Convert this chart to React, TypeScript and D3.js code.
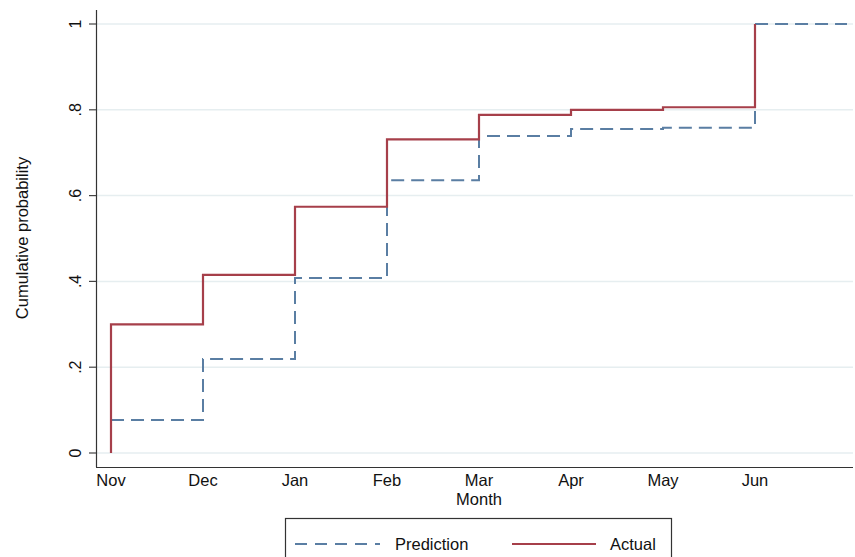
import React from "react";
import * as d3 from "d3";

const months = ["Nov", "Dec", "Jan", "Feb", "Mar", "Apr", "May", "Jun"];
const predictionValues = [0.077, 0.219, 0.408, 0.636, 0.739, 0.755, 0.758, 1.0, 1.0];
const actualValues = [0.0, 0.3, 0.415, 0.574, 0.731, 0.788, 0.8, 0.806, 1.0];
const yTicks = [0, 0.2, 0.4, 0.6, 0.8, 1];
const yTickLabels = ["0", ".2", ".4", ".6", ".8", "1"];

const W = 855;
const H = 557;

export default function App() {
  const x = d3.scaleLinear().domain([0, 8]).range([111, 847]);
  const y = d3.scaleLinear().domain([0, 1]).range([453, 24]);
  const font = "'Liberation Sans', Arial, Helvetica, sans-serif";

  const predPts: [number, number][] = predictionValues.map((v, i) => [i, v]);

  const stepLine = d3
    .line<[number, number]>()
    .x((d) => x(d[0]))
    .y((d) => y(d[1]))
    .curve(d3.curveStepAfter);
  const vLine = d3
    .line<[number, number]>()
    .x((d) => x(d[0]))
    .y((d) => y(d[1]));

  const actualPath = (() => {
    const segs: [number, number][] = [];
    segs.push([0, actualValues[0]]);
    for (let k = 1; k < actualValues.length; k++) {
      const m = k - 1;
      segs.push([m, actualValues[k - 1]]);
      segs.push([m, actualValues[k]]);
    }
    return vLine(segs);
  })();

  const blue = "#5a7ea3";
  const red = "#a63f4a";
  const grid = "#e6eef0";

  return (
    <svg
      width={W}
      height={H}
      style={{ position: "absolute", left: 0, top: 0, background: "#fff" }}
      fontFamily={font}
    >
      <rect x={0} y={0} width={W} height={H} fill="#fff" />
      {yTicks.map((t) => (
        <line key={"g" + t} x1={96} x2={853} y1={y(t)} y2={y(t)} stroke={grid} strokeWidth={1.5} />
      ))}
      <line x1={96.5} x2={96.5} y1={10} y2={467} stroke="#333" strokeWidth={1.2} />
      <line x1={96} x2={853} y1={467.5} y2={467.5} stroke="#333" strokeWidth={1.2} />
      {yTicks.map((t, i) => (
        <g key={"t" + t}>
          <line x1={89} x2={96} y1={y(t)} y2={y(t)} stroke="#444" strokeWidth={1.2} />
          <text
            transform={`translate(${81},${y(t)}) rotate(-90)`}
            textAnchor="middle"
            fontSize={16}
            fill="#111"
          >
            {yTickLabels[i]}
          </text>
        </g>
      ))}
      <text
        transform={`translate(28,238) rotate(-90)`}
        textAnchor="middle"
        fontSize={16.5}
        fill="#111"
      >
        Cumulative probability
      </text>
      {months.map((m, i) => (
        <text key={m} x={x(i)} y={486} textAnchor="middle" fontSize={16.5} fill="#111">
          {m}
        </text>
      ))}
      <text x={479} y={505} textAnchor="middle" fontSize={16.5} fill="#111">
        Month
      </text>

      <path d={stepLine(predPts) || ""} fill="none" stroke={blue} strokeWidth={2} strokeDasharray="13,7" />
      <path d={actualPath || ""} fill="none" stroke={red} strokeWidth={2.2} />

      <rect x={285.5} y={518.5} width={386} height={60} fill="#fff" stroke="#333" strokeWidth={1.2} />
      <line x1={295} x2={380} y1={544} y2={544} stroke={blue} strokeWidth={2} strokeDasharray="12,8" />
      <text x={395} y={550} fontSize={16.5} fill="#111">
        Prediction
      </text>
      <line x1={512} x2={596} y1={544} y2={544} stroke={red} strokeWidth={2} />
      <text x={610} y={550} fontSize={16.5} fill="#111">
        Actual
      </text>
    </svg>
  );
}
